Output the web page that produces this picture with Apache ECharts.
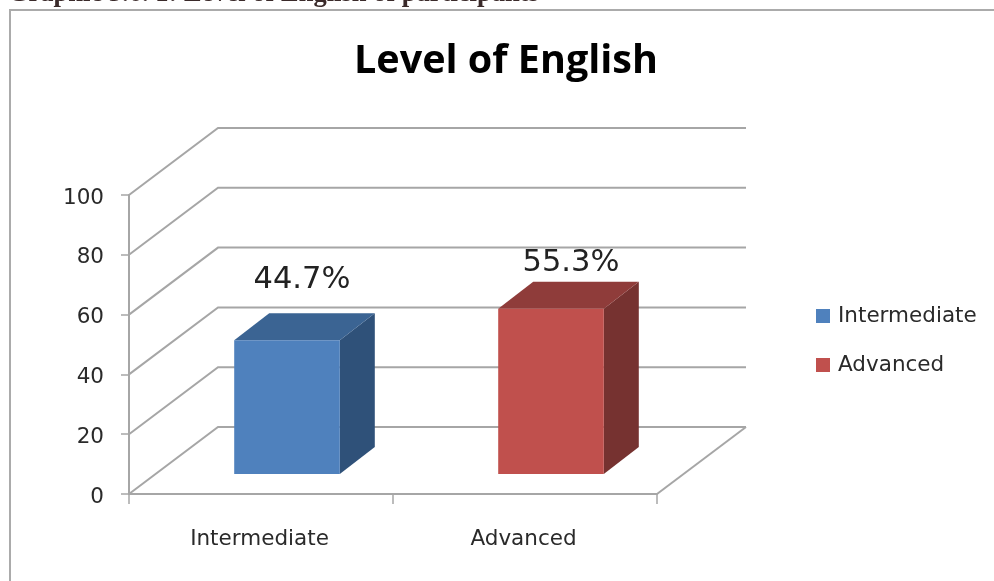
<!DOCTYPE html>
<html>
<head>
<meta charset="utf-8">
<style>html,body{margin:0;padding:0;background:#fff}#c{width:994px;height:581px}</style>
<script src="https://cdn.jsdelivr.net/npm/echarts@6/dist/echarts.min.js"></script>
</head>
<body>
<div id="c"></div>
<script>
const categories = ['Intermediate', 'Advanced'];
const seriesNames = ['Intermediate', 'Advanced'];
const intermediateValues = [44.7, null];
const advancedValues = [null, 55.3];
const valueTicks = [0, 20, 40, 60, 80, 100];
const titleText = 'Level of English';
const captionText = 'Graphic 3.6. 1: Level of English of participants';

const FONT = '"DejaVu Sans"';
const WALL = '#a6a6a6';
const DEPTH = [89, -67];      // depth of the 3D box
const BAR_OFF = [26, -20];    // bar front plane, from the front of the box
const BAR_DEPTH = [35, -27];  // depth of a bar
const BAR_SHARE = 0.4;
const shades = {
  Intermediate: { front: '#4f81bd', top: '#3b6493', side: '#2f5179', label: [15, -33] },
  Advanced:     { front: '#c0504d', top: '#8f3c3a', side: '#763230', label: [20, -19] }
};

function wallItem(params, api) {
  const g = params.coordSys;
  const y = api.coord([0, api.value(1)])[1];
  const left = g.x, right = g.x + g.width;
  const isFloor = api.value(1) === 0;
  const children = [{
    type: 'polyline',
    shape: { points: [[left, y], [left + DEPTH[0], y + DEPTH[1]], [right + DEPTH[0], y + DEPTH[1]]] },
    style: { stroke: WALL, lineWidth: 2, fill: null }
  }];
  if (isFloor) {
    children.push({
      type: 'line',
      shape: { x1: right, y1: y, x2: right + DEPTH[0], y2: y + DEPTH[1] },
      style: { stroke: WALL, lineWidth: 2 }
    });
  }
  return { type: 'group', children };
}

function barItem(name) {
  const c = shades[name];
  return function (params, api) {
    const val = api.value(1);
    const base = api.coord([api.value(0), 0]);
    const topPt = api.coord([api.value(0), val]);
    const w = api.size([1, 0])[0] * BAR_SHARE;
    const x0 = base[0] - w / 2 + BAR_OFF[0], x1 = x0 + w;
    const yb = base[1] + BAR_OFF[1], yt = topPt[1] + BAR_OFF[1];
    const dx = BAR_DEPTH[0], dy = BAR_DEPTH[1];
    return {
      type: 'group',
      children: [
        { type: 'polygon', shape: { points: [[x1, yt], [x1 + dx, yt + dy], [x1 + dx, yb + dy], [x1, yb]] }, style: { fill: c.side } },
        { type: 'polygon', shape: { points: [[x0, yt], [x0 + dx, yt + dy], [x1 + dx, yt + dy], [x1, yt]] }, style: { fill: c.top } },
        { type: 'rect', shape: { x: x0, y: yt, width: w, height: yb - yt }, style: { fill: c.front } },
        { type: 'text', style: {
            text: val.toFixed(1) + '%', x: (x0 + x1) / 2 + c.label[0], y: yt + dy + c.label[1],
            align: 'center', verticalAlign: 'middle', fill: '#222', font: '30.5px ' + FONT } }
      ]
    };
  };
}

function points(values) {
  return values.map((v, i) => [i, v]).filter(d => d[1] !== null);
}

const chart = echarts.init(document.getElementById('c'), null, { renderer: 'canvas' });
chart.setOption({
  animation: false,
  backgroundColor: '#fff',
  title: {
    text: titleText, left: 501, top: 37, textAlign: 'center',
    textStyle: { fontFamily: '"Open Sans"', fontWeight: 700, fontSize: 39.5, color: '#000' }
  },
  graphic: [
    { type: 'rect', left: 9, top: 9, shape: { width: 1000, height: 600 }, silent: true, z: -1,
      style: { fill: '#fff', stroke: '#ababab', lineWidth: 2 } },
    { type: 'text', left: 8, top: -19, silent: true,
      style: { text: captionText, fill: '#3a2a2a', font: 'bold 26.5px "Liberation Serif"' } }
  ],
  legend: {
    orient: 'vertical', left: 811, top: 300, itemWidth: 14, itemHeight: 14, itemGap: 27,
    icon: 'rect', data: seriesNames,
    textStyle: { fontFamily: FONT, fontSize: 21.5, color: '#2a2a2a', lineHeight: 20, padding: [0, 0, 0, 3] }
  },
  grid: { left: 129, right: 337, top: 195, bottom: 87 },
  xAxis: {
    type: 'category', data: categories,
    axisLine: { lineStyle: { color: WALL, width: 2 } },
    axisTick: { show: true, length: 10, lineStyle: { color: WALL, width: 1.5 } },
    axisLabel: { fontFamily: FONT, fontSize: 21.5, color: '#2a2a2a', margin: 34, padding: [0, 3, 0, 0] },
    splitLine: { show: false }
  },
  yAxis: {
    type: 'value', min: 0, max: 100, interval: 20,
    axisLine: { show: true, lineStyle: { color: WALL, width: 2 } },
    axisTick: { show: true, length: 8, lineStyle: { color: WALL, width: 1.5 } },
    axisLabel: { fontFamily: FONT, fontSize: 21.5, color: '#2a2a2a', margin: 25, verticalAlign: 'top', lineHeight: 6 },
    splitLine: { show: false }
  },
  series: [
    { type: 'custom', name: 'walls', clip: false, silent: true, z: 1,
      renderItem: wallItem, data: valueTicks.map(t => [0, t]), encode: { x: 0, y: 1 } },
    { type: 'custom', name: seriesNames[0], clip: false, z: 2, itemStyle: { color: shades.Intermediate.front },
      renderItem: barItem(seriesNames[0]), data: points(intermediateValues), encode: { x: 0, y: 1 } },
    { type: 'custom', name: seriesNames[1], clip: false, z: 2, itemStyle: { color: shades.Advanced.front },
      renderItem: barItem(seriesNames[1]), data: points(advancedValues), encode: { x: 0, y: 1 } }
  ]
});
</script>
</body>
</html>
